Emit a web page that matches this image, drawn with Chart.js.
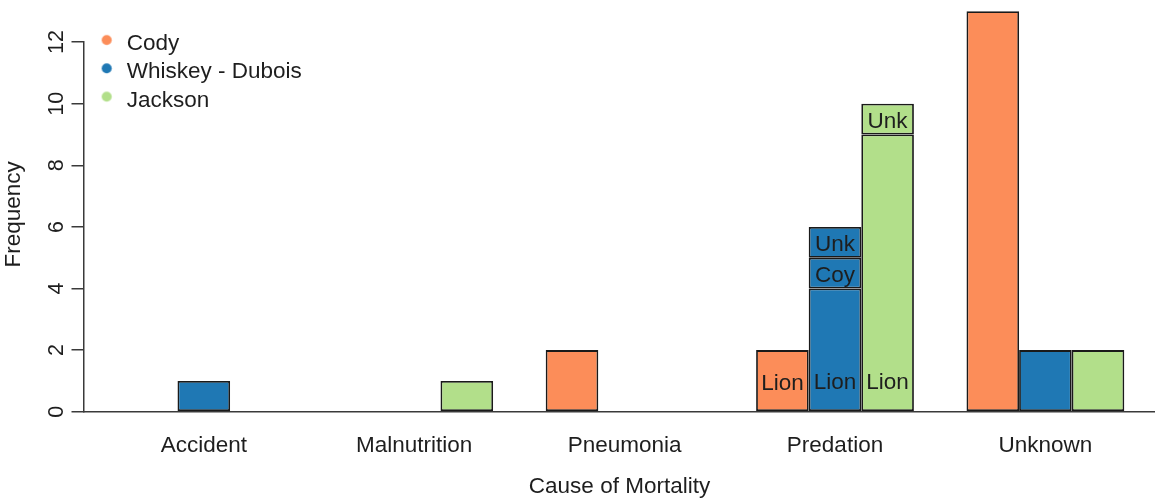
<!DOCTYPE html>
<html>
<head>
<meta charset="utf-8">
<script src="https://cdn.jsdelivr.net/npm/chart.js@4"></script>
<style>
html, body { margin: 0; padding: 0; background: #ffffff; }
#wrap { width: 1155px; height: 500px; }
</style>
</head>
<body>
<div id="wrap"><canvas id="c" width="1155" height="500"></canvas></div>
<script>
// ---- data ----
const categories = ['Accident', 'Malnutrition', 'Pneumonia', 'Predation', 'Unknown'];
const sites = ['Cody', 'Whiskey - Dubois', 'Jackson'];
const codyMain     = [null, null, 2,    2, 13];
const whiskeyMain  = [1,    null, null, 4, 2];
const whiskeyCoy   = [null, null, null, 1, null];
const whiskeyUnk   = [null, null, null, 1, null];
const jacksonMain  = [null, 1,    null, 9, 2];
const jacksonUnk   = [null, null, null, 1, null];
const codyMainText    = ['', '', '', 'Lion', ''];
const whiskeyMainText = ['', '', '', 'Lion', ''];
const whiskeyCoyText  = ['', '', '', 'Coy', ''];
const whiskeyUnkText  = ['', '', '', 'Unk', ''];
const jacksonMainText = ['', '', '', 'Lion', ''];
const jacksonUnkText  = ['', '', '', 'Unk', ''];
const yTicks = [0, 2, 4, 6, 8, 10, 12];
const xTitle = 'Cause of Mortality';
const yTitle = 'Frequency';

// ---- styles ----
const FONT = "'Liberation Sans', Arial, Helvetica, sans-serif";
const TEXT = '#1e1e1e';
const AXIS = '#3a3a3a';
const siteColors = ['#FC8D59', '#1F78B4', '#B2DF8A'];

Chart.defaults.font.family = FONT;
Chart.defaults.color = TEXT;

function makeDataset(values, texts, site) {
  return {
    label: sites[site],
    stack: sites[site],
    data: values.map((v, i) => ({ x: i, y: v })),
    segText: texts,
    backgroundColor: siteColors[site],
    borderColor: '#1a1a1a',
    borderWidth: 1.8,
    borderSkipped: false,
    clip: false,
    categoryPercentage: 0.75,
    barPercentage: 1.0
  };
}

const datasets = [
  makeDataset(codyMain, codyMainText, 0),
  makeDataset(whiskeyMain, whiskeyMainText, 1),
  makeDataset(whiskeyCoy, whiskeyCoyText, 1),
  makeDataset(whiskeyUnk, whiskeyUnkText, 1),
  makeDataset(jacksonMain, jacksonMainText, 2),
  makeDataset(jacksonUnk, jacksonUnkText, 2)
];

// legend dot drawn on a small canvas (slightly offset to match R legend spacing)
function dotStyle(color) {
  const cv = document.createElement('canvas');
  cv.width = 32; cv.height = 24;
  const c = cv.getContext('2d');
  c.fillStyle = color;
  c.beginPath();
  c.arc(16 + 4.1, 12 - 3.8, 5, 0, Math.PI * 2);
  c.fill();
  return cv;
}

const segLabelPlugin = {
  id: 'segLabels',
  afterDatasetsDraw(chart) {
    const ctx = chart.ctx;
    const ys = chart.scales.y;
    const twoUnits = ys.getPixelForValue(0) - ys.getPixelForValue(2);
    chart.data.datasets.forEach((d, di) => {
      const meta = chart.getDatasetMeta(di);
      meta.data.forEach((el, i) => {
        const t = d.segText ? d.segText[i] : '';
        if (!t) return;
        const p = el.getProps(['x', 'y', 'base'], true);
        const cy = p.base - Math.min(p.base - p.y, twoUnits) / 2;
        ctx.save();
        ctx.font = '22.5px ' + FONT;
        ctx.fillStyle = TEXT;
        ctx.textAlign = 'center';
        ctx.textBaseline = 'middle';
        ctx.fillText(t, p.x, cy + 2.8);
        ctx.restore();
      });
    });
  }
};

new Chart(document.getElementById('c'), {
  type: 'bar',
  data: { datasets: datasets },
  plugins: [segLabelPlugin],
  options: {
    responsive: false,
    animation: false,
    layout: { padding: { top: 42.1, left: 0, right: 0, bottom: 0 } },
    plugins: {
      tooltip: { enabled: false },
      legend: {
        position: 'chartArea',
        align: 'start',
        title: { display: true, text: '', padding: { top: 25.75, bottom: 0 }, font: { size: 1, lineHeight: 1 } },
        labels: {
          usePointStyle: true,
          pointStyleWidth: 25.6,
          boxHeight: 7,
          padding: 5.8,
          color: TEXT,
          font: { size: 22.5, family: FONT },
          generateLabels: () => sites.map((s, i) => ({
            text: s,
            fillStyle: siteColors[i],
            strokeStyle: siteColors[i],
            lineWidth: 0,
            pointStyle: dotStyle(siteColors[i]),
            hidden: false,
            datasetIndex: i
          }))
        }
      }
    },
    scales: {
      x: {
        type: 'linear',
        min: -0.5694,
        max: 4.5209,
        offset: false,
        stacked: true,
        afterFit(s) { s.height = 88.3; },
        afterBuildTicks(s) { s.ticks = categories.map((c, i) => ({ value: i })); },
        grid: { display: false },
        border: { display: true, color: AXIS, width: 1.5 },
        ticks: {
          autoSkip: false,
          minRotation: 0,
          maxRotation: 0,
          padding: 13,
          color: TEXT,
          font: { size: 22.5, family: FONT },
          callback: (v, i) => categories[i]
        },
        title: {
          display: true,
          text: xTitle,
          color: TEXT,
          padding: { top: 0, bottom: 0 },
          font: { size: 22.5, family: FONT }
        }
      },
      y: {
        min: 0,
        max: 12,
        stacked: true,
        afterFit(s) { s.width = 84; },
        afterBuildTicks(s) { s.ticks = yTicks.map(v => ({ value: v })); },
        border: { display: true, color: AXIS, width: 1.5 },
        grid: { display: true, drawOnChartArea: false, drawTicks: true, tickLength: 12.5, color: AXIS, lineWidth: 1.5 },
        ticks: {
          autoSkip: false,
          minRotation: 90,
          maxRotation: 90,
          crossAlign: 'center',
          padding: 2.8,
          color: TEXT,
          font: { size: 21.5, family: FONT }
        },
        title: {
          display: true,
          text: '    ' + yTitle,
          color: TEXT,
          padding: { top: 0.5, bottom: 0 },
          font: { size: 22.5, family: FONT }
        }
      }
    }
  }
});
</script>
</body>
</html>
